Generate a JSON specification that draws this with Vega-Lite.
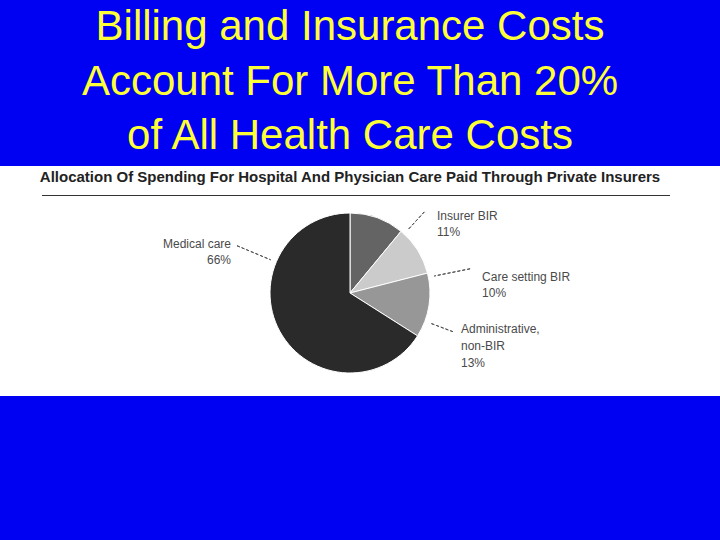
{
  "$schema": "https://vega.github.io/schema/vega-lite/v6.json",
  "width": 720,
  "height": 230,
  "autosize": {"type": "none"},
  "padding": {"top": 166, "bottom": 144, "left": 0, "right": 0},
  "background": "#0000F2",
  "title": {
    "text": ["Billing and Insurance Costs", "Account For More Than 20%", "of All Health Care Costs"],
    "subtitle": "Allocation Of Spending For Hospital And Physician Care Paid Through Private Insurers",
    "anchor": "middle",
    "frame": "group",
    "dx": -10,
    "font": "Liberation Sans",
    "fontSize": 42,
    "fontWeight": "normal",
    "color": "#FFFF38",
    "lineHeight": 54.5,
    "subtitleFont": "Liberation Sans",
    "subtitleFontSize": 15,
    "subtitleFontWeight": "bold",
    "subtitleColor": "#222222",
    "subtitlePadding": 12,
    "offset": -20
  },
  "data": {
    "values": [
      {"category": "Insurer BIR", "share": 11, "rank": 1, "label": "Insurer BIR\n11%"},
      {"category": "Care setting BIR", "share": 10, "rank": 2, "label": "Care setting BIR\n10%"},
      {"category": "Administrative, non-BIR", "share": 13, "rank": 3, "label": "Administrative,\nnon-BIR\n13%"},
      {"category": "Medical care", "share": 66, "rank": 4, "label": "Medical care\n66%"}
    ]
  },
  "transform": [
    {"stack": "share", "groupby": [], "sort": [{"field": "rank", "order": "ascending"}], "as": ["t0", "t1"]}
  ],
  "layer": [
    {
      "mark": {"type": "arc", "radius": 80, "stroke": "white", "strokeWidth": 1, "xOffset": -10, "yOffset": 12},
      "encoding": {
        "theta": {"field": "t0", "type": "quantitative", "stack": null, "scale": {"domain": [0, 100]}},
        "theta2": {"field": "t1"},
        "color": {
          "field": "category",
          "type": "nominal",
          "scale": {
            "domain": ["Insurer BIR", "Care setting BIR", "Administrative, non-BIR", "Medical care"],
            "range": ["#646464", "#CBCBCB", "#979797", "#2A2A2A"]
          },
          "legend": null
        }
      }
    },
    {
      "mark": {"type": "rule", "color": "#333333", "strokeWidth": 1, "yOffset": -85.5},
      "encoding": {
        "x": {"aggregate": "min", "field": "t0", "type": "quantitative", "scale": {"domain": [0, 100], "range": [42, 670]}, "axis": null},
        "x2": {"aggregate": "max", "field": "t1"}
      }
    },
    {
      "transform": [{"filter": {"field": "category", "equal": "Insurer BIR"}}],
      "layer": [
        {
          "mark": {"type": "arc", "filled": false, "stroke": "#555555", "strokeWidth": 1, "strokeDash": [3, 2], "radius": 110, "radius2": 86, "thetaOffset": 0.0506, "theta2Offset": 0.0506, "xOffset": -10, "yOffset": 12},
          "encoding": {"theta": {"field": "t1", "type": "quantitative", "stack": null}, "theta2": {"field": "t1"}}
        },
        {
          "mark": {"type": "text", "radius": 110, "thetaOffset": 0.0506, "xOffset": -10, "yOffset": 12, "dx": 12.7, "dy": 8, "align": "left", "baseline": "alphabetic", "lineBreak": "\n", "lineHeight": 16, "font": "Liberation Sans", "fontSize": 12, "color": "#4a4a4a"},
          "encoding": {"theta": {"field": "t1", "type": "quantitative", "stack": null}, "text": {"field": "label"}}
        }
      ]
    },
    {
      "transform": [{"filter": {"field": "category", "equal": "Care setting BIR"}}],
      "layer": [
        {
          "mark": {"type": "arc", "filled": false, "stroke": "#555555", "strokeWidth": 1, "strokeDash": [3, 2], "radius": 122.5, "radius2": 86, "thetaOffset": 0.0524, "theta2Offset": 0.0524, "xOffset": -10, "yOffset": 12},
          "encoding": {"theta": {"field": "t1", "type": "quantitative", "stack": null}, "theta2": {"field": "t1"}}
        },
        {
          "mark": {"type": "text", "radius": 122.5, "thetaOffset": 0.0524, "xOffset": -10, "yOffset": 12, "dx": 12, "dy": 12, "align": "left", "baseline": "alphabetic", "lineBreak": "\n", "lineHeight": 16, "font": "Liberation Sans", "fontSize": 12, "color": "#4a4a4a"},
          "encoding": {"theta": {"field": "t1", "type": "quantitative", "stack": null}, "text": {"field": "label"}}
        }
      ]
    },
    {
      "transform": [{"filter": {"field": "category", "equal": "Administrative, non-BIR"}}],
      "layer": [
        {
          "mark": {"type": "arc", "filled": false, "stroke": "#555555", "strokeWidth": 1, "strokeDash": [3, 2], "radius": 110, "radius2": 86, "thetaOffset": -0.206, "theta2Offset": -0.206, "xOffset": -10, "yOffset": 12},
          "encoding": {"theta": {"field": "t1", "type": "quantitative", "stack": null}, "theta2": {"field": "t1"}}
        },
        {
          "mark": {"type": "text", "radius": 110, "thetaOffset": -0.206, "xOffset": -10, "yOffset": 12, "dx": 8, "dy": 1.5, "align": "left", "baseline": "alphabetic", "lineBreak": "\n", "lineHeight": 17, "font": "Liberation Sans", "fontSize": 12, "color": "#4a4a4a"},
          "encoding": {"theta": {"field": "t1", "type": "quantitative", "stack": null}, "text": {"field": "label"}}
        }
      ]
    },
    {
      "transform": [{"filter": {"field": "category", "equal": "Medical care"}}],
      "layer": [
        {
          "mark": {"type": "arc", "filled": false, "stroke": "#555555", "strokeWidth": 1, "strokeDash": [3, 2], "radius": 122.5, "radius2": 86, "thetaOffset": -1.1746, "theta2Offset": -1.1746, "xOffset": -10, "yOffset": 12},
          "encoding": {"theta": {"field": "t1", "type": "quantitative", "stack": null}, "theta2": {"field": "t1"}}
        },
        {
          "mark": {"type": "text", "radius": 122.5, "thetaOffset": -1.1746, "xOffset": -10, "yOffset": 12, "dx": -6, "dy": 2, "align": "right", "baseline": "alphabetic", "lineBreak": "\n", "lineHeight": 16, "font": "Liberation Sans", "fontSize": 12, "color": "#4a4a4a"},
          "encoding": {"theta": {"field": "t1", "type": "quantitative", "stack": null}, "text": {"field": "label"}}
        }
      ]
    }
  ],
  "config": {
    "view": {"stroke": null, "fill": "white"}
  }
}
